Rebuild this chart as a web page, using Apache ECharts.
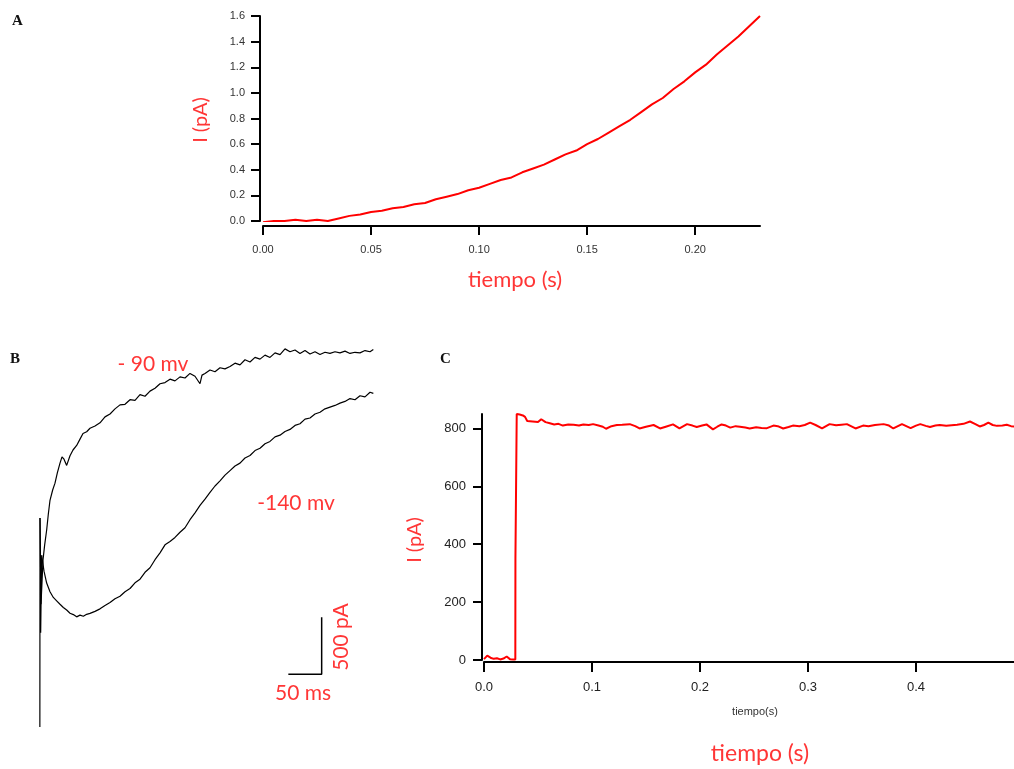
<!DOCTYPE html>
<html>
<head>
<meta charset="utf-8">
<script src="https://cdn.jsdelivr.net/npm/echarts@6/dist/echarts.min.js"></script>
<style>
  html, body { margin: 0; padding: 0; background: #fff; }
  #main { width: 1014px; height: 769px; }
</style>
</head>
<body>
<div id="main"></div>
<script>
// panel A: corriente vs tiempo
var tA = [0, 0.005, 0.01, 0.015, 0.02, 0.025, 0.03, 0.035, 0.04, 0.045, 0.05, 0.055, 0.06, 0.065, 0.07, 0.075,
          0.08, 0.085, 0.09, 0.095, 0.10, 0.105, 0.11, 0.115, 0.12, 0.125, 0.13, 0.135, 0.14, 0.145, 0.15, 0.155,
          0.16, 0.165, 0.17, 0.175, 0.18, 0.185, 0.19, 0.195, 0.20, 0.205, 0.21, 0.215, 0.22, 0.225, 0.23];
var iA = [-0.01, 0.00, 0.00, 0.01, 0.00, 0.01, 0.00, 0.02, 0.04, 0.05, 0.07, 0.08, 0.10, 0.11, 0.13, 0.14,
          0.17, 0.19, 0.21, 0.24, 0.26, 0.29, 0.32, 0.34, 0.38, 0.41, 0.44, 0.48, 0.52, 0.55, 0.60, 0.64,
          0.69, 0.74, 0.79, 0.85, 0.91, 0.96, 1.03, 1.09, 1.16, 1.22, 1.30, 1.37, 1.44, 1.52, 1.60];
var xTicksA = [0, 0.05, 0.10, 0.15, 0.20];
var yTicksA = [0, 0.2, 0.4, 0.6, 0.8, 1.0, 1.2, 1.4, 1.6];

// panel B: trazas (ms, pA)
var t90 = [15, 16.5, 19.5, 22, 25, 27.5, 30, 34, 37.5, 41, 45, 48, 51, 55, 60, 64.5, 70, 75, 79.5, 85, 90, 97.5,
           105, 112.5, 120, 127.5, 135, 142.5, 150, 157.5, 165, 172.5, 180, 187.5, 195, 202.5, 210, 217.5, 225,
           232.5, 240, 247.5, 255, 258, 262.5, 270, 277.5, 285, 292.5, 300, 307.5, 315, 322.5, 330, 337.5, 345,
           352.5, 360, 367.5, 375, 382.5, 390, 397.5, 405, 412.5, 420, 427.5, 435, 442.5, 450, 457.5, 465, 472.5,
           480, 487.5, 495, 502.5, 510, 515];
var i90 = [-1645, -2400, -2012, -1880, -1750, -1610, -1490, -1400, -1340, -1250, -1165, -1110, -1130, -1185, -1100,
           -1050, -1010, -955, -905, -890, -860, -840, -812, -760, -735, -690, -655, -650, -610, -615, -565, -580,
           -535, -510, -470, -460, -430, -445, -410, -420, -380, -405, -470, -395, -380, -350, -365, -330, -340,
           -320, -290, -305, -260, -280, -240, -255, -220, -240, -200, -215, -165, -190, -175, -205, -180, -210,
           -190, -215, -195, -205, -190, -200, -185, -205, -195, -200, -180, -190, -170];
var t140 = [14.8, 15, 16, 17.5, 21, 25, 30, 35, 40, 45, 50, 55, 60, 65, 70, 75, 80, 85, 90, 97.5, 105, 112.5, 120,
            127.5, 135, 142.5, 150, 157.5, 165, 172.5, 180, 187.5, 195, 202.5, 210, 217.5, 225, 232.5, 240, 247.5,
            255, 262.5, 270, 277.5, 285, 292.5, 300, 307.5, 315, 322.5, 330, 337.5, 345, 352.5, 360, 367.5, 375,
            382.5, 390, 397.5, 405, 412.5, 420, 427.5, 435, 442.5, 450, 457.5, 465, 472.5, 480, 487.5, 495, 502.5,
            510, 515];
var i140 = [-3474, -1645, -2650, -1970, -2110, -2214, -2290, -2340, -2370, -2400, -2428, -2450, -2478, -2490, -2510,
            -2495, -2505, -2488, -2480, -2462, -2440, -2410, -2385, -2352, -2330, -2290, -2262, -2212, -2180, -2120,
            -2080, -2010, -1950, -1880, -1850, -1815, -1770, -1730, -1660, -1600, -1535, -1480, -1420, -1365, -1320,
            -1270, -1230, -1190, -1165, -1120, -1098, -1055, -1035, -995, -975, -935, -920, -888, -870, -835, -820,
            -780, -770, -735, -720, -690, -675, -660, -640, -625, -600, -610, -575, -585, -545, -555];
var barX = [387.5, 437.5, 437.5];
var barY = [-3013, -3013, -2514];

// panel C: escalon
var tC = [0, 0.003, 0.006, 0.009, 0.012, 0.015, 0.018, 0.021, 0.024, 0.027, 0.0290, 0.0291, 0.0302, 0.0303,
          0.033, 0.036, 0.038, 0.040, 0.045, 0.050, 0.053, 0.057, 0.061, 0.065, 0.069, 0.073, 0.078, 0.083, 0.088,
          0.092, 0.097, 0.101, 0.106, 0.110, 0.113, 0.118, 0.123, 0.128, 0.135, 0.140, 0.144, 0.150, 0.157, 0.163,
          0.169, 0.175, 0.181, 0.188, 0.193, 0.197, 0.202, 0.206, 0.212, 0.216, 0.220, 0.224, 0.228, 0.233, 0.237,
          0.242, 0.246, 0.252, 0.257, 0.262, 0.268, 0.272, 0.277, 0.282, 0.286, 0.292, 0.297, 0.302, 0.307, 0.313,
          0.320, 0.326, 0.331, 0.336, 0.344, 0.351, 0.356, 0.362, 0.370, 0.375, 0.379, 0.387, 0.391, 0.395, 0.400,
          0.404, 0.409, 0.413, 0.418, 0.422, 0.428, 0.433, 0.438, 0.444, 0.450, 0.455, 0.459, 0.463, 0.467, 0.471,
          0.475, 0.480, 0.484, 0.488, 0.492, 0.497, 0.500];
var iC = [3, 15, 8, 4, 6, 2, 5, 12, 3, 2, 2, 352, 352, 850,
          848, 845, 840, 826, 824, 822, 832, 822, 818, 814, 816, 810, 814, 813, 810,
          814, 812, 815, 810, 806, 799, 808, 812, 813, 815, 808, 800, 806, 812, 800,
          807, 814, 800, 815, 810, 805, 810, 814, 797, 806, 814, 810, 803, 808, 806,
          803, 800, 804, 802, 801, 810, 808, 800, 805, 810, 808, 812, 820, 812, 800,
          815, 811, 813, 815, 800, 810, 808, 812, 815, 810, 800, 815, 808, 801, 810,
          815, 809, 805, 810, 812, 809, 811, 813, 816, 824, 815, 807, 812, 820, 812,
          809, 810, 813, 808, 806, 810, 808];
var xTicksC = [0, 0.1, 0.2, 0.3, 0.4, 0.5];
var yTicksC = [0, 200, 400, 600, 800];

function pairs(xs, ys) {
    var out = [];
    for (var i = 0; i < xs.length; i++) {
        out.push([xs[i], ys[i]]);
    }
    return out;
}

var red = '#ff3636';
var titleFont = 'Lato, "Open Sans", sans-serif';

function axisLine() {
    return {show: true, onZero: false, lineStyle: {color: '#000', width: 2}};
}

function redText(txt, x, y, size, rot) {
    return {
        type: 'text', x: x, y: y, rotation: rot || 0,
        style: {text: txt, fill: red, font: size + 'px ' + titleFont, align: 'center', verticalAlign: 'middle'}
    };
}

function letter(txt, x, y) {
    return {
        type: 'text', x: x, y: y,
        style: {text: txt, fill: '#111', font: 'bold 15px "Liberation Serif", "DejaVu Serif", serif'}
    };
}

var chart = echarts.init(document.getElementById('main'));
var option = {
    animation: false,
    backgroundColor: '#fff',
    grid: [
        {left: 263, top: 16, width: 497, height: 205, outerBoundsMode: 'none'},
        {left: 30, top: 330, width: 360, height: 400, outerBoundsMode: 'none'},
        {left: 484, top: 414, width: 540, height: 246, outerBoundsMode: 'none'}
    ],
    xAxis: [
        {
            gridIndex: 0, type: 'value', min: 0, max: 0.23, offset: 5,
            axisLine: axisLine(),
            axisTick: {show: true, length: 9, customValues: xTicksA, lineStyle: {color: '#000', width: 2}},
            axisLabel: {customValues: xTicksA, margin: 18, fontSize: 11, color: '#333', fontFamily: 'Liberation Sans',
                formatter: function (v) { return v.toFixed(2); }},
            splitLine: {show: false}
        },
        {gridIndex: 1, type: 'value', min: 0, max: 540, show: false},
        {
            gridIndex: 2, type: 'value', min: 0, max: 0.5, offset: 2,
            axisLine: axisLine(),
            axisTick: {show: true, length: 10, customValues: xTicksC, lineStyle: {color: '#000', width: 2}},
            axisLabel: {customValues: xTicksC, margin: 19, fontSize: 13, color: '#222', fontFamily: 'Liberation Sans',
                formatter: function (v) { return v.toFixed(1); }},
            splitLine: {show: false}
        }
    ],
    yAxis: [
        {
            gridIndex: 0, type: 'value', min: 0, max: 1.6, offset: 3,
            axisLine: axisLine(),
            axisTick: {show: true, length: 9, customValues: yTicksA, lineStyle: {color: '#000', width: 2}},
            axisLabel: {customValues: yTicksA, margin: 15, fontSize: 11, color: '#333', fontFamily: 'Liberation Sans',
                formatter: function (v) { return v.toFixed(1); }},
            splitLine: {show: false}
        },
        {gridIndex: 1, type: 'value', min: -3500, max: 0, show: false},
        {
            gridIndex: 2, type: 'value', min: 0, max: 850, offset: 2,
            axisLine: axisLine(),
            axisTick: {show: true, length: 9, customValues: yTicksC, lineStyle: {color: '#000', width: 2}},
            axisLabel: {customValues: yTicksC, margin: 16, fontSize: 13, color: '#222', fontFamily: 'Liberation Sans'},
            splitLine: {show: false}
        }
    ],
    series: [
        {type: 'line', xAxisIndex: 0, yAxisIndex: 0, data: pairs(tA, iA), symbol: 'none',
            lineStyle: {color: '#ff0000', width: 2}},
        {type: 'line', xAxisIndex: 1, yAxisIndex: 1, data: pairs(t90, i90), symbol: 'none',
            lineStyle: {color: '#000', width: 1.2}},
        {type: 'line', xAxisIndex: 1, yAxisIndex: 1, data: pairs(t140, i140), symbol: 'none',
            lineStyle: {color: '#000', width: 1.2}},
        {type: 'line', xAxisIndex: 1, yAxisIndex: 1, data: pairs(barX, barY), symbol: 'none',
            lineStyle: {color: '#000', width: 1.5}},
        {type: 'line', xAxisIndex: 2, yAxisIndex: 2, data: pairs(tC, iC), symbol: 'none',
            lineStyle: {color: '#ff0000', width: 2}}
    ],
    graphic: [
        letter('A', 12, 14),
        letter('B', 10, 352),
        letter('C', 440, 352),
        redText('I (pA)', 201, 120, 20, Math.PI / 2),
        redText('tiempo (s)', 515, 280, 22),
        redText('- 90 mv', 153, 364, 21),
        redText('-140 mv', 296, 503, 21),
        redText('500 pA', 341, 637, 21, Math.PI / 2),
        redText('50 ms', 303, 693, 21),
        redText('I (pA)', 415, 540, 20, Math.PI / 2),
        {type: 'text', x: 755, y: 712,
            style: {text: 'tiempo(s)', fill: '#333', font: '11px "Liberation Sans", sans-serif', align: 'center', verticalAlign: 'middle'}},
        redText('tiempo (s)', 760, 754, 23)
    ]
};
chart.setOption(option);
</script>
</body>
</html>
